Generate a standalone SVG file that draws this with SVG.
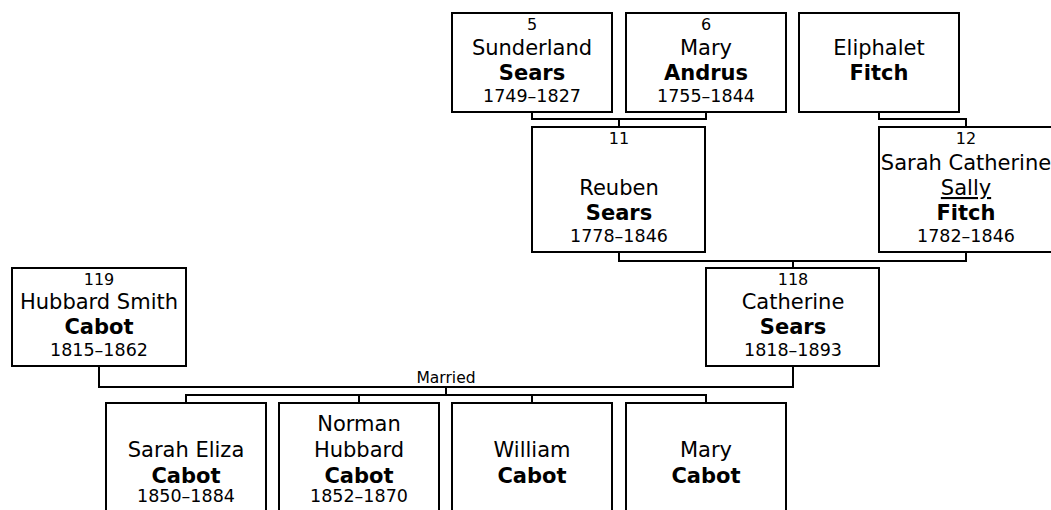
<svg xmlns="http://www.w3.org/2000/svg" width="1051" height="510" viewBox="0 0 1051 510">
<style>
.box{fill:#fff;stroke:#000;stroke-width:2}
.ln{fill:none;stroke:#000;stroke-width:2}
text{font-family:"DejaVu Sans","Liberation Sans",sans-serif;fill:#000;text-anchor:middle}
.num{font-size:16px}
.nm{font-size:21px}
.sn{font-size:21px;font-weight:bold}
.dt{font-size:17.5px}
.lbl{font-size:15.5px}
</style>
<rect width="1051" height="510" fill="#fff"/>
<g id="connectors">
<path class="ln" d="M532,112V119H706V112M619,119V127"/>
<path class="ln" d="M879,112V119H966V127"/>
<path class="ln" d="M619,252V261H966V252M793,261V268"/>
<path class="ln" d="M99,366V387H793V366"/>
<path class="ln" d="M446,387V395M186,403V395H706V403M359,395V403M532,395V403"/>
<text class="lbl" x="446" y="383">Married</text>
</g>
<g id="p5">
<rect class="box" x="452" y="13" width="160" height="99"/>
<text class="num" x="532" y="30">5</text>
<text class="nm" x="532" y="55">Sunderland</text>
<text class="sn" x="532" y="80">Sears</text>
<text class="dt" x="532" y="102">1749–1827</text>
</g>
<g id="p6">
<rect class="box" x="626" y="13" width="160" height="99"/>
<text class="num" x="706" y="30">6</text>
<text class="nm" x="706" y="55">Mary</text>
<text class="sn" x="706" y="80">Andrus</text>
<text class="dt" x="706" y="102">1755–1844</text>
</g>
<g id="eliphalet">
<rect class="box" x="799" y="13" width="160" height="99"/>
<text class="nm" x="879" y="55">Eliphalet</text>
<text class="sn" x="879" y="80">Fitch</text>
</g>
<g id="p11">
<rect class="box" x="532" y="127" width="173" height="125"/>
<text class="num" x="619" y="144">11</text>
<text class="nm" x="619" y="195">Reuben</text>
<text class="sn" x="619" y="220">Sears</text>
<text class="dt" x="619" y="242">1778–1846</text>
</g>
<g id="p12">
<rect class="box" x="879" y="127" width="174" height="125"/>
<text class="num" x="966" y="144">12</text>
<text class="nm" x="966" y="170">Sarah Catherine</text>
<text class="nm" x="966" y="195" text-decoration="underline">Sally</text>
<text class="sn" x="966" y="220">Fitch</text>
<text class="dt" x="966" y="242">1782–1846</text>
</g>
<g id="p119">
<rect class="box" x="12" y="268" width="174" height="98"/>
<text class="num" x="99" y="285">119</text>
<text class="nm" x="99" y="309">Hubbard Smith</text>
<text class="sn" x="99" y="334">Cabot</text>
<text class="dt" x="99" y="356">1815–1862</text>
</g>
<g id="p118">
<rect class="box" x="706" y="268" width="173" height="98"/>
<text class="num" x="793" y="285">118</text>
<text class="nm" x="793" y="309">Catherine</text>
<text class="sn" x="793" y="334">Sears</text>
<text class="dt" x="793" y="356">1818–1893</text>
</g>
<g id="c1">
<rect class="box" x="106" y="403" width="160" height="127"/>
<text class="nm" x="186" y="457">Sarah Eliza</text>
<text class="sn" x="186" y="483">Cabot</text>
<text class="dt" x="186" y="502">1850–1884</text>
</g>
<g id="c2">
<rect class="box" x="279" y="403" width="160" height="127"/>
<text class="nm" x="359" y="431">Norman</text>
<text class="nm" x="359" y="457">Hubbard</text>
<text class="sn" x="359" y="483">Cabot</text>
<text class="dt" x="359" y="502">1852–1870</text>
</g>
<g id="c3">
<rect class="box" x="452" y="403" width="160" height="127"/>
<text class="nm" x="532" y="457">William</text>
<text class="sn" x="532" y="483">Cabot</text>
</g>
<g id="c4">
<rect class="box" x="626" y="403" width="160" height="127"/>
<text class="nm" x="706" y="457">Mary</text>
<text class="sn" x="706" y="483">Cabot</text>
</g>
</svg>
